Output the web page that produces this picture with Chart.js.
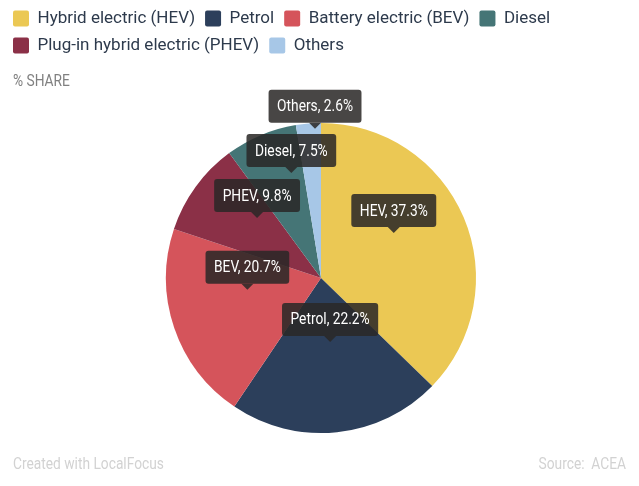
<!DOCTYPE html>
<html>
<head>
<meta charset="utf-8">
<script src="https://cdn.jsdelivr.net/npm/chart.js@4.4.1/dist/chart.umd.min.js"></script>
<style>
  html, body { margin: 0; padding: 0; background: #fff; }
  #wrap { width: 639px; height: 486px; position: relative; }
</style>
</head>
<body>
<div id="wrap"><canvas id="pie"></canvas></div>
<script>
// data (clockwise from 12 o'clock)
var categories = ['Hybrid electric (HEV)', 'Petrol', 'Battery electric (BEV)', 'Plug-in hybrid electric (PHEV)', 'Diesel', 'Others'];
var shortNames = ['HEV', 'Petrol', 'BEV', 'PHEV', 'Diesel', 'Others'];
var shares = [37.3, 22.2, 20.7, 9.8, 7.5, 2.6];
var colors = ['#ebc854', '#2c3f5b', '#d5545b', '#8b3047', '#457576', '#a7c7e7'];
var legendOrder = ['Hybrid electric (HEV)', 'Petrol', 'Battery electric (BEV)', 'Diesel', 'Plug-in hybrid electric (PHEV)', 'Others'];

Chart.defaults.font.family = 'Roboto';

// draw text a bit narrower, the original uses a condensed face
function narrowText(ctx, text, x, y, size, color, align) {
    ctx.save();
    ctx.font = size + 'px Roboto';
    ctx.fillStyle = color;
    ctx.textBaseline = 'middle';
    ctx.textAlign = align || 'left';
    ctx.translate(x, y);
    ctx.scale(0.86, 1);
    ctx.fillText(text, 0, 0);
    ctx.restore();
}

// extra room under the legend for the "% SHARE" line
var legendSpace = {
    id: 'legendSpace',
    beforeInit: function(chart) {
        var fit = chart.legend.fit;
        chart.legend.fit = function() {
            fit.call(this);
            this.height += 59;
        };
    }
};

// dark callout boxes on the slices
var sliceLabels = {
    id: 'sliceLabels',
    afterDatasetsDraw: function(chart, args, opts) {
        var ctx = chart.ctx;
        var meta = chart.getDatasetMeta(0);
        meta.data.forEach(function(arc, i) {
            var p = opts.placement[i];
            var a = (arc.startAngle + arc.endAngle) / 2 + p[0] * Math.PI / 180;
            var tx = arc.x + Math.cos(a) * arc.outerRadius * p[1];
            var ty = arc.y + Math.sin(a) * arc.outerRadius * p[1];
            var text = shortNames[i] + ', ' + shares[i].toFixed(1) + '%';

            ctx.save();
            ctx.font = '16px Roboto';
            var w = ctx.measureText(text).width * 0.86 + 17;
            var h = 33;
            var bx = tx - w / 2, by = ty - 5 - h;
            ctx.fillStyle = 'rgba(42,40,38,0.86)';
            ctx.beginPath();
            ctx.roundRect(bx, by, w, h, 3);
            ctx.fill();
            ctx.beginPath();
            ctx.moveTo(tx - 6, ty - 5);
            ctx.lineTo(tx + 6, ty - 5);
            ctx.lineTo(tx, ty + 1);
            ctx.closePath();
            ctx.fill();
            ctx.restore();

            narrowText(ctx, text, tx, by + h / 2 + 1, 16, '#ffffff', 'center');
        });
    }
};

var captions = {
    id: 'captions',
    afterDraw: function(chart) {
        var ctx = chart.ctx;
        narrowText(ctx, '% SHARE', 13, 82, 16, '#808080', 'left');
        narrowText(ctx, 'Created with LocalFocus', 13, 465, 16, '#d2d2d2', 'left');
        narrowText(ctx, 'Source:  ACEA', 626, 465, 16, '#d2d2d2', 'right');
    }
};

var ctx = document.getElementById('pie').getContext('2d');
var pieChart = new Chart(ctx, {
    type: 'pie',
    data: {
        labels: categories,
        datasets: [{
            data: shares,
            backgroundColor: colors,
            borderWidth: 0
        }]
    },
    options: {
        responsive: true,
        maintainAspectRatio: false,
        animation: false,
        events: [],
        layout: { padding: { left: 3, right: 0, top: 0, bottom: 53 } },
        plugins: {
            tooltip: { enabled: false },
            legend: {
                position: 'top',
                align: 'start',
                labels: {
                    boxWidth: 16,
                    boxHeight: 16,
                    padding: 10,
                    useBorderRadius: true,
                    borderRadius: 2,
                    color: '#2d3a4c',
                    font: { size: 17 },
                    sort: function(a, b) {
                        return legendOrder.indexOf(a.text) - legendOrder.indexOf(b.text);
                    }
                }
            },
            sliceLabels: {
                // [angle shift in degrees, fraction of radius] for each callout tip
                placement: [[-9.3, 0.555], [-2.3, 0.41], [10.5, 0.48], [7.6, 0.57], [7.2, 0.71], [2.4, 0.97]]
            }
        }
    },
    plugins: [legendSpace, sliceLabels, captions]
});
</script>
</body>
</html>
